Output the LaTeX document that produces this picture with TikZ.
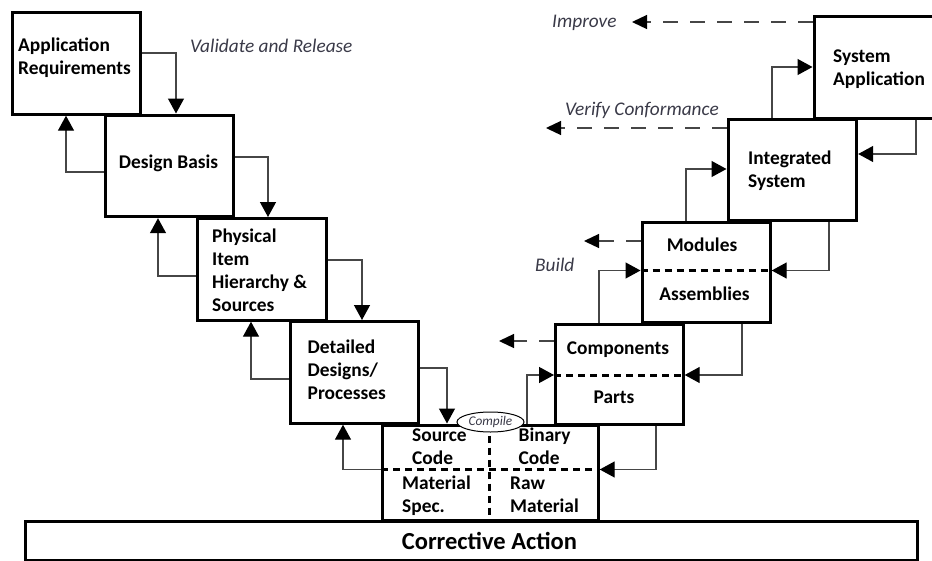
\documentclass[tikz,border=0pt]{standalone}
\usepackage{fontspec}
\setmainfont{Carlito}
\usetikzlibrary{arrows.meta,shapes.geometric}
\definecolor{notegray}{RGB}{58,58,72}
\definecolor{linegray}{RGB}{70,70,70}
% invisible strut that fixes the first baseline of a multi-line label
\newcommand\fst{\rule{0pt}{14pt}}
\begin{document}
\begin{tikzpicture}[x=1pt,y=-1pt,
  box/.style={draw=black,line width=3.2pt,fill=white,inner sep=0pt,anchor=north west},
  conn/.style={draw=linegray,line width=1.3pt,-{Triangle[length=15pt,width=16pt,color=black]}},
  fb/.style={draw=linegray,line width=1.3pt,dash pattern=on 15pt off 12pt,-{Triangle[length=15pt,width=14pt,color=black]}},
  split/.style={draw=black,line width=3pt,dash pattern=on 7pt off 5pt},
  txt/.style={inner sep=0pt,anchor=north west,align=left,font=\bfseries\fontsize{19.4}{23}\selectfont},
  ctxt/.style={inner sep=0pt,anchor=base,font=\bfseries\fontsize{19.4}{23}\selectfont},
  note/.style={inner sep=0pt,anchor=base west,text=notegray,font=\itshape\fontsize{19.3}{23}\selectfont}]
\useasboundingbox (0,0) rectangle (932,560);

% --- left leg: decomposition ---
\node[box,minimum width=127.5pt,minimum height=101.5pt] (ar) at (11,11) {};
\node[box,minimum width=127.5pt,minimum height=101.5pt] (db) at (104,113.5) {};
\node[box,minimum width=129pt,minimum height=101.5pt] (pi) at (195.5,217) {};
\node[box,minimum width=128pt,minimum height=101.5pt] (dd) at (288.5,320) {};
% --- bottom ---
\node[box,minimum width=215.5pt,minimum height=95pt] (sc) at (381,423.5) {};
\node[box,minimum width=892.5pt,minimum height=38.5pt] (ca) at (23.5,520) {};
% --- right leg: integration ---
\node[box,minimum width=127.5pt,minimum height=100pt] (cp) at (554,322.5) {};
\node[box,minimum width=128pt,minimum height=100pt] (ma) at (640.5,220.5) {};
\node[box,minimum width=128.5pt,minimum height=101.5pt] (is) at (726.5,117.5) {};
\node[box,minimum width=128.5pt,minimum height=101.5pt] (sa) at (812.5,15) {};

% split lines inside the combined boxes
\draw[split] (sc.west |- 0,469.5) -- (sc.east |- 0,469.5);
\draw[split] (489,0 |- sc.north) -- (489,0 |- sc.south);
\draw[split] (cp.west |- 0,375) -- (cp.east |- 0,375);
\draw[split] (ma.west |- 0,270.5) -- (ma.east |- 0,270.5);

% downward hand-offs on the left
\draw[conn] (ar.east |- 0,53) -| (176,0 |- db.north);
\draw[conn] (db.east |- 0,157) -| (268,0 |- pi.north);
\draw[conn] (pi.east |- 0,260) -| (362,0 |- dd.north);
\draw[conn] (dd.east |- 0,368) -| (447,0 |- sc.north);
% feedback upwards on the left
\draw[conn] (db.west |- 0,172) -| (66,0 |- ar.south);
\draw[conn] (pi.west |- 0,276) -| (158,0 |- db.south);
\draw[conn] (dd.west |- 0,379) -| (251,0 |- pi.south);
\draw[conn] (sc.west |- 0,469.5) -| (343,0 |- dd.south);
% upward build steps on the right
\draw[conn] (527,0 |- sc.north) |- (cp.west |- 0,375);
\draw[conn] (599,0 |- cp.north) |- (ma.west |- 0,270.5);
\draw[conn] (686,0 |- ma.north) |- (is.west |- 0,169);
\draw[conn] (772,0 |- is.north) |- (sa.west |- 0,67);
% feedback downwards on the right
\draw[conn] (656,0 |- cp.south) |- (sc.east |- 0,469.5);
\draw[conn] (742,0 |- ma.south) |- (cp.east |- 0,375);
\draw[conn] (829,0 |- is.south) |- (ma.east |- 0,270.5);
\draw[conn] (916,0 |- sa.south) |- (is.east |- 0,154);

% dashed feedback to the left leg
\coordinate (impEnd) at (632,22);
\coordinate (verEnd) at (546,128);
\coordinate (modEnd) at (584,241);
\coordinate (cmpEnd) at (499,341);
\draw[fb] (sa.west |- impEnd) -- (impEnd);
\draw[fb] (is.west |- verEnd) -- (verEnd);
\draw[fb] (ma.west |- modEnd) -- (modEnd);
\draw[fb] (cp.west |- cmpEnd) -- (cmpEnd);

% compile step
\node[ellipse,draw=black,line width=1pt,fill=white,minimum width=67pt,minimum height=20pt,inner sep=0pt,
      text=notegray,font=\itshape\fontsize{13.3}{15}\selectfont] (cmp) at (490.5,422) {Compile};

% box texts
\node[txt] (tar) at (18,37) {\fst Application\\Requirements};
\node[ctxt] (tdb) at (168.5,168.5) {Design Basis};
\node[txt] (tpi) at (212,228) {\fst Physical\\Item\\Hierarchy \&\\Sources};
\node[txt] (tdd) at (307.5,339) {\fst Detailed\\Designs/\\Processes};
\node[txt] (tsrc) at (412,427) {\fst Source\\Code};
\node[txt] (tbin) at (518.5,427) {\fst Binary\\Code};
\node[txt] (tmat) at (402,475) {\fst Material\\Spec.};
\node[txt] (traw) at (510,475) {\fst Raw\\Material};
\node[ctxt] (tmod) at (702,251) {Modules};
\node[ctxt] (tasm) at (704.5,300) {Assemblies};
\node[ctxt] (tcmp) at (618,354) {Components};
\node[ctxt] (tpar) at (614,403) {Parts};
\node[txt] (tis) at (748,150) {\fst Integrated\\System};
\node[txt] (tsa) at (833,48) {\fst System\\Application};
\node[inner sep=0pt,anchor=base,font=\bfseries\fontsize{24.5}{28}\selectfont] (tca) at (489.5,549) {Corrective Action};

% phase labels
\node[note] (lval) at (190,52) {Validate and Release};
\node[note] (limp) at (552,27) {Improve};
\node[note] (lver) at (565,115) {Verify Conformance};
\node[note] (lbld) at (535,271) {Build};
\end{tikzpicture}
\end{document}
